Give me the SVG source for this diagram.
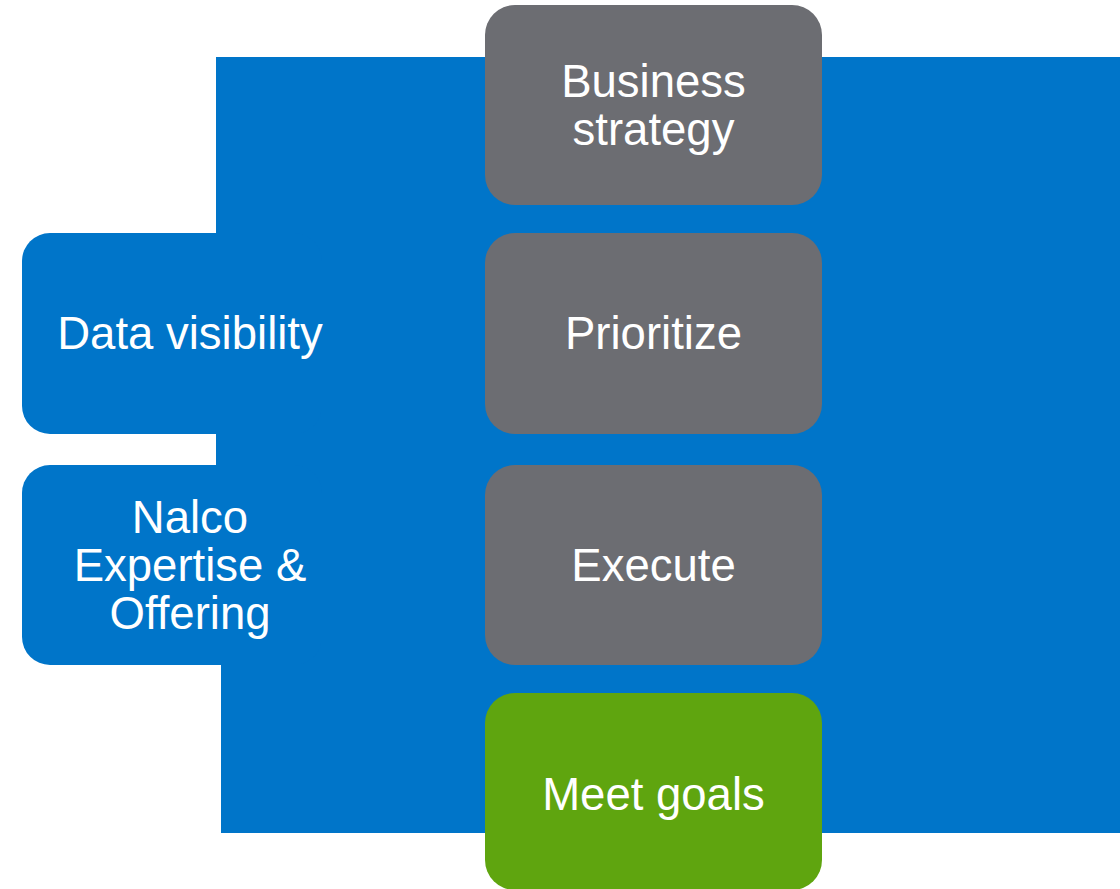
<svg xmlns="http://www.w3.org/2000/svg" width="1120" height="889" viewBox="0 0 1120 889">
<style>
.blue{fill:#0075C9}
.gray{fill:#6C6D72}
.green{fill:#5FA50F}
.t{fill:#FFFFFF;font-family:"Liberation Sans",Arial,sans-serif;font-size:45.5px;text-anchor:middle}
</style>
<rect width="1120" height="889" fill="#FFFFFF"/>
<g id="background">
<polygon class="blue" points="216,57 1120,57 1120,833 221,833 221,665 216,665"/>
</g>
<g id="data-visibility">
<rect class="blue" x="22" y="233" width="300" height="201" rx="28"/>
<text class="t" x="190" y="349">Data visibility</text>
</g>
<g id="nalco-expertise">
<rect class="blue" x="22" y="465" width="300" height="200" rx="28"/>
<text class="t" x="190" y="533">Nalco</text>
<text class="t" x="190" y="581">Expertise &amp;</text>
<text class="t" x="190" y="629">Offering</text>
</g>
<g id="business-strategy">
<rect class="gray" x="485" y="5" width="337" height="200" rx="30"/>
<text class="t" x="653.5" y="97">Business</text>
<text class="t" x="653.5" y="145">strategy</text>
</g>
<g id="prioritize">
<rect class="gray" x="485" y="233" width="337" height="201" rx="30"/>
<text class="t" x="653.5" y="349">Prioritize</text>
</g>
<g id="execute">
<rect class="gray" x="485" y="465" width="337" height="200" rx="30"/>
<text class="t" x="653.5" y="581">Execute</text>
</g>
<g id="meet-goals">
<rect class="green" x="485" y="693" width="337" height="197" rx="30"/>
<text class="t" x="653.5" y="810">Meet goals</text>
</g>
</svg>
